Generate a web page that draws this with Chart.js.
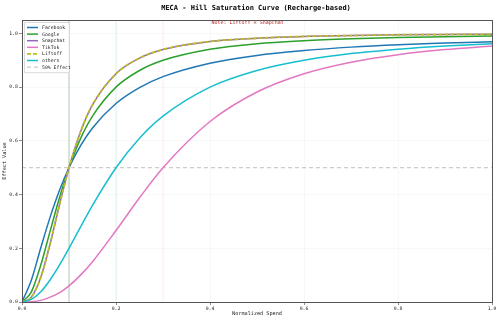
<!DOCTYPE html>
<html>
<head>
<meta charset="utf-8">
<script src="https://cdn.jsdelivr.net/npm/chart.js@4.4.0/dist/chart.umd.min.js"></script>
<style>
    html, body { margin: 0; padding: 0; background: #fff; }
    #wrap { width: 500px; height: 320px; }
</style>
</head>
<body>
<div id="wrap"><canvas id="hillChart" width="500" height="320"></canvas></div>
<script>
    "use strict";

    // Data
    const spend = [0, 0.02, 0.04, 0.06, 0.08, 0.1, 0.125, 0.15, 0.2, 0.25, 0.3, 0.4, 0.5, 0.6, 0.7, 0.8, 0.9, 1.0];
    const facebook = [0, 0.082, 0.202, 0.317, 0.417, 0.5, 0.583, 0.648, 0.739, 0.798, 0.839, 0.889, 0.918, 0.936, 0.949, 0.958, 0.964, 0.969];
    const google = [0, 0.038, 0.138, 0.265, 0.390, 0.5, 0.610, 0.692, 0.800, 0.862, 0.900, 0.941, 0.962, 0.973, 0.980, 0.985, 0.988, 0.990];
    const snapchat = [0, 0.018, 0.092, 0.218, 0.364, 0.5, 0.636, 0.734, 0.850, 0.908, 0.940, 0.970, 0.982, 0.989, 0.992, 0.995, 0.996, 0.997];
    const tiktok = [0, 0.001, 0.006, 0.018, 0.035, 0.060, 0.101, 0.150, 0.266, 0.388, 0.500, 0.672, 0.782, 0.850, 0.893, 0.921, 0.940, 0.953];
    const liftoff = [0, 0.018, 0.092, 0.218, 0.364, 0.5, 0.636, 0.734, 0.850, 0.908, 0.940, 0.970, 0.982, 0.989, 0.992, 0.995, 0.996, 0.997];
    const others = [0, 0.010, 0.038, 0.083, 0.138, 0.200, 0.281, 0.360, 0.500, 0.610, 0.692, 0.800, 0.862, 0.900, 0.925, 0.941, 0.953, 0.962];

    const channels = ['Facebook', 'Google', 'Snapchat', 'TikTok', 'Liftoff', 'others'];
    const halfSpend = [0.1, 0.1, 0.1, 0.3, 0.1, 0.2];   // spend where each curve hits 50%
    const effectLevel = 0.5;
    const xTicks = [0, 0.2, 0.4, 0.6, 0.8, 1.0];
    const yTicks = [0, 0.2, 0.4, 0.6, 0.8, 1.0];

    const titleText = 'MECA - Hill Saturation Curve (Recharge-based)';
    const noteText = 'Note: Liftoff = Snapchat';

    // Styles
    const FONT = '"DejaVu Sans Mono", "Liberation Mono", monospace';
    const colors = ['#1f77b4', '#2ca02c', '#9467bd', '#e377c2', '#bcbd22', '#17becf'];
    const seriesValues = [facebook, google, snapchat, tiktok, liftoff, others];

    function toPoints(xs, ys) {
        return xs.map(function (x, i) { return { x: x, y: ys[i] }; });
    }

    function hexA(hex, a) {
        const n = parseInt(hex.slice(1), 16);
        return 'rgba(' + (n >> 16) + ',' + ((n >> 8) & 255) + ',' + (n & 255) + ',' + a + ')';
    }

    let datasets = [];

    // faint vertical marks at half-saturation spend
    channels.forEach(function (name, i) {
        datasets.push({
            label: '_half_' + name,
            data: [{ x: halfSpend[i], y: 0 }, { x: halfSpend[i], y: 1.05 }],
            borderColor: hexA(colors[i], 0.18),
            borderWidth: 0.8,
            pointRadius: 0,
            order: 100,
            inLegend: false
        });
    });

    // curves
    channels.forEach(function (name, i) {
        datasets.push({
            label: name,
            data: toPoints(spend, seriesValues[i]),
            borderColor: colors[i],
            borderWidth: name === 'Liftoff' ? 1.8 : 1.5,
            borderDash: name === 'Liftoff' ? [4, 2] : [],
            cubicInterpolationMode: 'monotone',
            pointRadius: 0,
            order: 20 - i,
            inLegend: true
        });
    });

    // 50% line
    datasets.push({
        label: '50% Effect',
        data: [{ x: 0, y: effectLevel }, { x: 1, y: effectLevel }],
        borderColor: 'rgba(128,128,128,0.5)',
        borderWidth: 1,
        borderDash: [4, 3],
        pointRadius: 0,
        order: 90,
        inLegend: true
    });

    // Title, note, frame and in-plot legend
    const decorPlugin = {
        id: 'decor',
        afterDraw: function (chart) {
            const c = chart.ctx;
            const area = chart.chartArea;
            const xs = chart.scales.x;

            c.save();
            c.strokeStyle = '#555';
            c.lineWidth = 1;
            c.strokeRect(area.left + 0.5, area.top + 0.5, area.right - area.left, area.bottom - area.top);

            c.fillStyle = '#000';
            c.textAlign = 'center';
            c.textBaseline = 'middle';
            c.font = 'bold 7px ' + FONT;
            c.fillText(titleText, 256, 8);

            c.fillStyle = '#b22222';
            c.font = '5px ' + FONT;
            c.fillText(noteText, xs.getPixelForValue(0.48), 23);

            // legend box
            const items = chart.data.datasets.filter(function (d) { return d.inLegend; });
            const bx = area.left + 2, by = area.top + 2, bw = 45, rowH = 6.6;
            const bh = items.length * rowH + 4;
            c.fillStyle = 'rgba(255,255,255,0.8)';
            c.strokeStyle = '#d0d0d0';
            c.lineWidth = 0.8;
            c.beginPath();
            c.rect(bx + 0.5, by + 0.5, bw, bh);
            c.fill();
            c.stroke();

            c.textAlign = 'left';
            c.font = '4.8px ' + FONT;
            items.forEach(function (d, i) {
                const yy = by + 5.5 + i * rowH;
                c.strokeStyle = d.borderColor;
                c.lineWidth = d.borderWidth;
                c.setLineDash(d.borderDash || []);
                c.beginPath();
                c.moveTo(bx + 3, yy);
                c.lineTo(bx + 14, yy);
                c.stroke();
                c.setLineDash([]);
                c.fillStyle = '#222';
                c.fillText(d.label, bx + 18, yy + 0.3);
            });
            c.restore();
        }
    };

    Chart.defaults.font.family = FONT;
    Chart.defaults.color = '#222';

    const ctx = document.getElementById('hillChart');
    const hillChart = new Chart(ctx, {
        type: 'line',
        data: { datasets: datasets },
        options: {
            responsive: false,
            animation: false,
            layout: { padding: { top: 20, right: 8, left: 0, bottom: 0 } },
            plugins: {
                legend: { display: false },
                title: { display: false },
                tooltip: { enabled: false }
            },
            scales: {
                x: {
                    type: 'linear',
                    min: 0,
                    max: 1,
                    afterFit: function (s) { s.height = 18; },
                    afterBuildTicks: function (s) { s.ticks = xTicks.map(function (v) { return { value: v }; }); },
                    ticks: {
                        font: { size: 4.8 },
                        padding: 1,
                        maxRotation: 0,
                        callback: function (v) { return v.toFixed(1); }
                    },
                    grid: { color: 'rgba(0,0,0,0.05)', tickLength: 3, tickColor: '#444', lineWidth: 0.6 },
                    border: { color: '#555', width: 1 },
                    title: { display: true, text: 'Normalized Spend', font: { size: 5.2 }, padding: { top: 0, bottom: 3 } }
                },
                y: {
                    type: 'linear',
                    min: 0,
                    max: 1.05,
                    afterFit: function (s) { s.width = 22; },
                    afterBuildTicks: function (s) { s.ticks = yTicks.map(function (v) { return { value: v }; }); },
                    ticks: {
                        font: { size: 4.8 },
                        padding: 1,
                        callback: function (v) { return v.toFixed(1); }
                    },
                    grid: { color: 'rgba(0,0,0,0.05)', tickLength: 3, tickColor: '#444', lineWidth: 0.6 },
                    border: { color: '#555', width: 1 },
                    title: { display: true, text: 'Effect Value', font: { size: 5.2 }, padding: { top: 2, bottom: 0 } }
                }
            }
        },
        plugins: [decorPlugin]
    });
</script>
</body>
</html>
